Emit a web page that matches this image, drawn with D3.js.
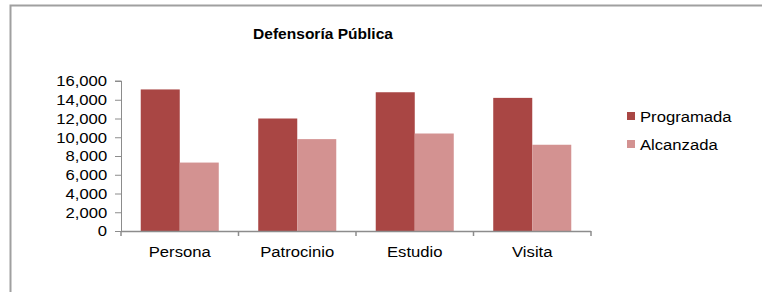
<!DOCTYPE html>
<html>
<head>
<meta charset="utf-8">
<script src="https://cdn.jsdelivr.net/npm/d3@7"></script>
<style>
  body { margin: 0; background: #fff; }
  text { font-family: "Liberation Sans", Arial, sans-serif; fill: #000; }
</style>
</head>
<body>
<div id="chart"></div>
<script>
// chart data
var categories = ["Persona", "Patrocinio", "Estudio", "Visita"];
var seriesNames = ["Programada", "Alcanzada"];
var programada = [15100, 12000, 14800, 14200];
var alcanzada = [7300, 9800, 10400, 9200];
var yTicks = [0, 2000, 4000, 6000, 8000, 10000, 12000, 14000, 16000];
var titleText = "Defensoría Pública";

var W = 762, H = 292;
var colors = ["#a94644", "#d39291"];
var axisColor = "#8c8c8c";
var sx = 1.11; // text in the picture is a bit wide

var svg = d3.select("#chart")
    .append("svg")
    .attr("width", W)
    .attr("height", H);

// frame (only top and left visible)
svg.append("rect")
    .attr("x", 10.5)
    .attr("y", 5.5)
    .attr("width", 800)
    .attr("height", 400)
    .attr("fill", "none")
    .attr("stroke", "#a0a0a0")
    .attr("stroke-width", 2);

// title
svg.append("text")
    .attr("transform", "translate(323,39) scale(" + sx + ",1)")
    .attr("text-anchor", "middle")
    .style("font-size", "14px")
    .style("font-weight", "bold")
    .text(titleText);

// scales
var x0 = d3.scaleBand()
    .domain(categories)
    .range([121, 591])
    .paddingInner(0.336)
    .paddingOuter(0.168);

var x1 = d3.scaleBand()
    .domain(seriesNames)
    .range([0, x0.bandwidth()]);

var y = d3.scaleLinear()
    .domain([0, 16000])
    .range([231, 81]);

// bars
var rows = categories.map(function(c, i) {
    return { cat: c, vals: [programada[i], alcanzada[i]] };
});

var groups = svg.selectAll(".grp")
    .data(rows)
    .enter()
    .append("g")
    .attr("transform", function(d) { return "translate(" + x0(d.cat) + ",0)"; });

groups.selectAll("rect")
    .data(function(d) { return d.vals.map(function(v, j) { return { s: seriesNames[j], v: v, j: j }; }); })
    .enter()
    .append("rect")
    .attr("x", function(d) { return x1(d.s); })
    .attr("y", function(d) { return y(d.v); })
    .attr("width", x1.bandwidth())
    .attr("height", function(d) { return y(0) - y(d.v); })
    .attr("fill", function(d) { return colors[d.j]; });

// y axis
var yAxis = svg.append("g")
    .attr("transform", "translate(121,0)")
    .call(d3.axisLeft(y)
        .tickValues(yTicks)
        .tickSize(6)
        .tickPadding(6.5)
        .tickFormat(d3.format(",")));

yAxis.selectAll("path, line").attr("stroke", axisColor);
yAxis.select(".domain").attr("d", "M-6," + y(16000) + "H0.5V" + y(0));
yAxis.selectAll("text")
    .attr("transform", "scale(" + sx + ",1)")
    .style("font-size", "15px");

// x axis labels
var xAxis = svg.append("g")
    .attr("transform", "translate(0," + y(0) + ")")
    .call(d3.axisBottom(x0).tickSizeInner(0).tickSizeOuter(0).tickPadding(15));
xAxis.select(".domain").remove();
xAxis.selectAll("text")
    .attr("transform", "scale(" + sx + ",1)")
    .style("font-size", "15px");

// x axis line with ticks at category boundaries
var step = x0.step();
var bounds = categories.map(function(c) { return x0(c) - x0.paddingInner() * step / 2; });
bounds.push(x0.range()[1]);

svg.append("line")
    .attr("x1", 121)
    .attr("x2", 591)
    .attr("y1", y(0) + 0.5)
    .attr("y2", y(0) + 0.5)
    .attr("stroke", axisColor)
    .attr("stroke-width", 1.5);

svg.selectAll(".btick")
    .data(bounds)
    .enter()
    .append("line")
    .attr("x1", function(d) { return d; })
    .attr("x2", function(d) { return d; })
    .attr("y1", y(0))
    .attr("y2", y(0) + 5)
    .attr("stroke", axisColor)
    .attr("stroke-width", 1.5);

// legend
var legend = svg.selectAll(".leg")
    .data(seriesNames)
    .enter()
    .append("g")
    .attr("transform", function(d, i) { return "translate(627," + (112 + i * 28) + ")"; });

legend.append("rect")
    .attr("width", 8)
    .attr("height", 8)
    .attr("fill", function(d, i) { return colors[i]; });

legend.append("text")
    .attr("transform", "translate(13,10) scale(" + sx + ",1)")
    .style("font-size", "15px")
    .text(function(d) { return d; });
</script>
</body>
</html>
